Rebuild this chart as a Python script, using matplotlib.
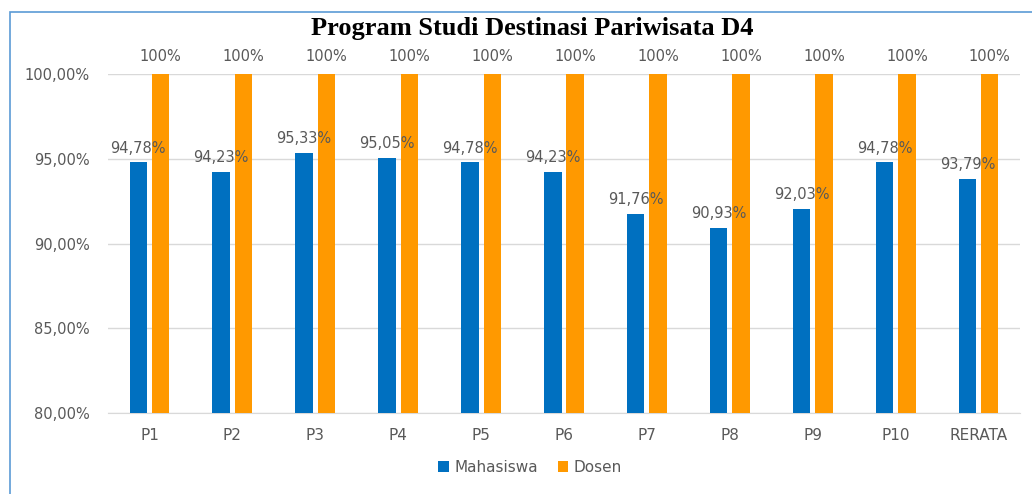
import matplotlib
import matplotlib.pyplot as plt
import numpy as np
from matplotlib.patches import Rectangle

matplotlib.use('agg')

categories = ["P1", "P2", "P3", "P4", "P5", "P6", "P7", "P8", "P9", "P10", "RERATA"]
mahasiswa = [94.78, 94.23, 95.33, 95.05, 94.78, 94.23, 91.76, 90.93, 92.03, 94.78, 93.79]
dosen = [100, 100, 100, 100, 100, 100, 100, 100, 100, 100, 100]
y_ticks = [80, 85, 90, 95, 100]

BLUE = "#0070C0"
ORANGE = "#FF9900"
TEXT = "#595959"
FONT = "DejaVu Sans"

fig = plt.figure(figsize=(10.32, 4.94), dpi=100)
ax = fig.add_axes([108 / 1032, 1 - 413 / 494, 912 / 1032, 339 / 494])

x = np.arange(len(categories))
w = 0.21
off = 0.135
ax.bar(x - off, mahasiswa, w, color=BLUE, label="Mahasiswa", zorder=3)
ax.bar(x + off, dosen, w, color=ORANGE, label="Dosen", zorder=3)

for xi, v in zip(x, mahasiswa):
    ax.annotate(f"{v:.2f}%".replace(".", ","), (xi - off, v), xytext=(0, 5),
                textcoords="offset points", ha="center", va="bottom",
                fontsize=10.5, color=TEXT, family=FONT)
for xi, v in zip(x, dosen):
    ax.annotate(f"{v:.0f}%", (xi + off, v), xytext=(0, 7),
                textcoords="offset points", ha="center", va="bottom",
                fontsize=10.5, color=TEXT, family=FONT)

ax.set_xlim(-0.5, len(categories) - 0.5)
ax.set_ylim(80, 100)
ax.set_yticks(y_ticks)
ax.set_yticklabels([f"{t:.2f}%".replace(".", ",") for t in y_ticks])
ax.set_xticks(x)
ax.set_xticklabels(categories)
ax.tick_params(length=0, colors=TEXT, labelsize=10.5)
ax.tick_params(axis="x", labelsize=11, pad=11)
ax.tick_params(axis="y", pad=13)
for lab in ax.get_xticklabels() + ax.get_yticklabels():
    lab.set_family(FONT)

ax.grid(axis="y", color="#D9D9D9", linewidth=1, zorder=0)
for s in ["top", "right", "left"]:
    ax.spines[s].set_visible(False)
ax.spines["bottom"].set_color("#D9D9D9")

fig.text(532 / 1032, 1 - 28 / 494, "Program Studi Destinasi Pariwisata D4",
         ha="center", va="center", fontsize=19, fontweight="bold",
         family="Liberation Serif")

fig.legend(loc="center", bbox_to_anchor=(530 / 1032, 1 - 467 / 494), ncol=2,
           frameon=False, handlelength=0.7, handleheight=0.7,
           handletextpad=0.35, columnspacing=1.3,
           prop={"family": FONT, "size": 11}, labelcolor=TEXT)

# chart frame, partly cut off at right and bottom
fig.patches.append(Rectangle((10 / 1032, -0.1), 1.2, 1 - 12 / 494 + 0.1,
                             transform=fig.transFigure, fill=False,
                             edgecolor="#5B9BD5", linewidth=1.2))

fig.savefig("out.png", dpi=100)
